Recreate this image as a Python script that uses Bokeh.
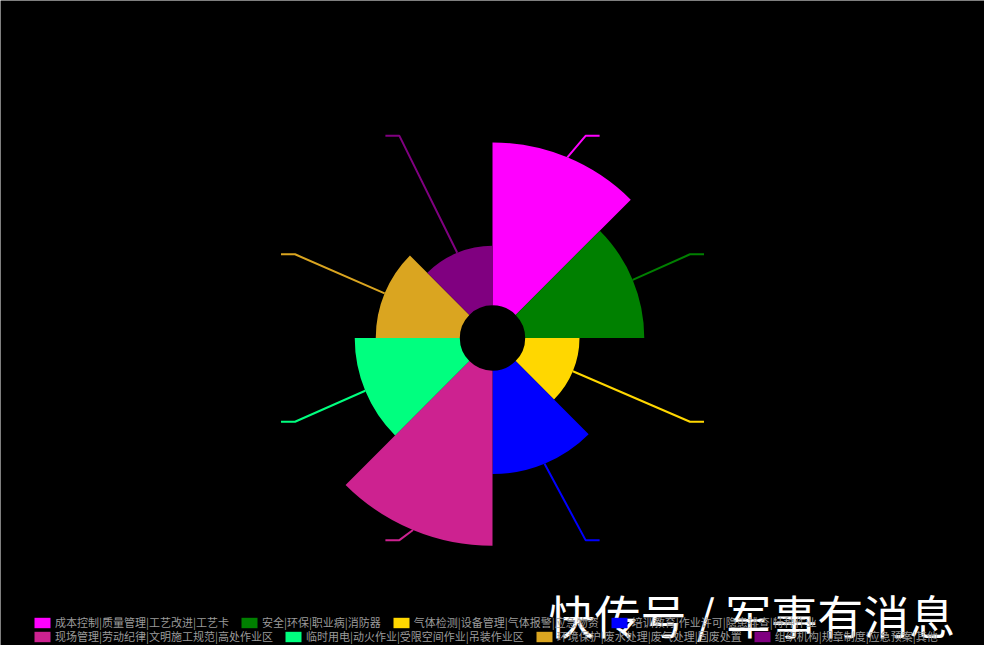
import math
from bokeh.plotting import figure
from bokeh.models import ColumnDataSource, Legend, LegendItem, Label
from bokeh.embed import file_html
from bokeh.resources import INLINE

# ---- data ----
categories = [
    "成本控制|质量管理|工艺改进|工艺卡",
    "安全|环保|职业病|消防器",
    "气体检测|设备管理|气体报警|应急物资",
    "培训教育|作业许可|隐患排查|特种作业",
    "现场管理|劳动纪律|文明施工规范|高处作业区",
    "临时用电|动火作业|受限空间作业|吊装作业区",
    "环境保护|废水处理|废气处理|固废处置",
    "组织机构|规章制度|应急预案|其他",
]
values = [93, 68, 31, 59, 100, 60, 48, 34]
colors = ["#FF00FF", "#008000", "#FFD700", "#0000FF",
          "#CD2290", "#00FF7F", "#DAA520", "#800080"]
watermark = "快传号 / 军事有消息"

# ---- layout ----
W, H = 984, 645
CX, CY = 492, 337.5          # centre of the rose, px from left / top of canvas
R0, R1 = 32.7, 207.8         # inner radius, radius of the largest value

p = figure(width=W, height=H, x_range=(-CX, W - CX), y_range=(-(H - CY), CY),
           output_backend="svg", toolbar_location=None, min_border=0)
p.background_fill_color = "black"
p.border_fill_color = "black"
p.outline_line_color = None
p.axis.visible = False
p.grid.visible = False

n = len(values)
step = 2 * math.pi / n
vmax = max(values)
outer = [R0 + (R1 - R0) * v / vmax for v in values]
start = [math.pi / 2 - (i + 1) * step for i in range(n)]
end = [math.pi / 2 - i * step for i in range(n)]

src = ColumnDataSource(dict(cat=categories, val=values, color=colors,
                            outer=outer, start=start, end=end))
wr = p.annular_wedge(x=0, y=0, inner_radius=R0, outer_radius="outer",
                     start_angle="start", end_angle="end", fill_color="color",
                     line_color=None, source=src)

# label lines (labels themselves are black on black)
xs, ys = [], []
for i in range(n):
    m = (i + 0.5) * step
    s = 1 if math.sin(m) > 0 else -1
    sx, sy = outer[i] * math.sin(m), outer[i] * math.cos(m)
    ey = (R1 + 11) * math.cos(m)
    ex = s * (R1 + 5) * math.sqrt(max(0.0, 1 - (ey / (R1 + 17)) ** 2))
    xs.append([sx, ex, ex + s * 14])
    ys.append([sy, ey, ey])
p.multi_line(xs=xs, ys=ys, line_color=colors, line_width=2)

# legend in two rows
def make_legend(idx, y):
    items = [LegendItem(label=categories[i], renderers=[wr], index=i) for i in idx]
    return Legend(items=items, orientation="horizontal", location=(32, y),
                  glyph_width=20, glyph_height=13, label_height=13,
                  label_standoff=3, spacing=10, padding=0, margin=0,
                  label_text_font_size="11px", label_text_color="#9b9b9b",
                  label_text_font="Noto Sans CJK SC",
                  background_fill_alpha=0, border_line_alpha=0)

p.add_layout(make_legend([0, 1, 2, 3], 15))
p.add_layout(make_legend([4, 5, 6, 7], 1))

p.add_layout(Label(x=548, y=32, x_units="screen", y_units="screen",
                   text=watermark, text_color="white", text_font_size="46px",
                   text_font="Noto Sans CJK SC", text_baseline="middle"))

open("out.html", "w").write(file_html(p, INLINE))
